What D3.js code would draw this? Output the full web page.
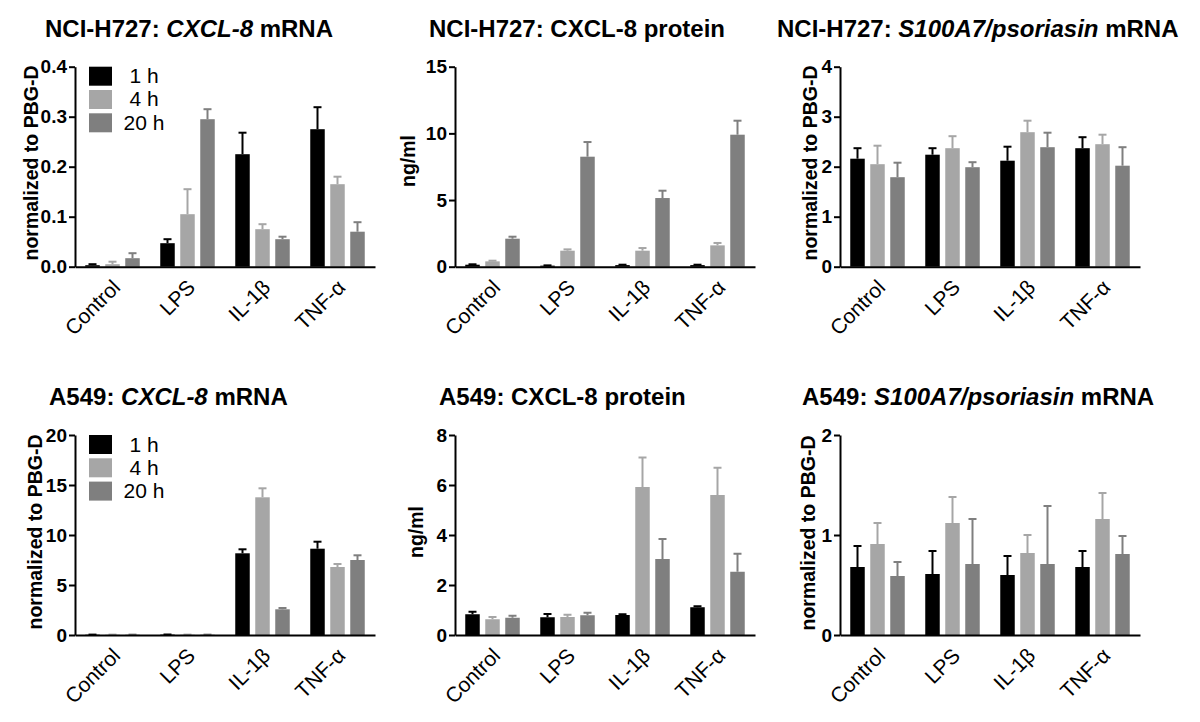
<!DOCTYPE html>
<html><head><meta charset="utf-8">
<script src="https://cdn.jsdelivr.net/npm/d3@7"></script>
<style>
html,body{margin:0;padding:0;background:#fff;}
svg{display:block;font-family:"Liberation Sans",Arial,sans-serif;}
</style></head>
<body><svg id="chart" width="1200" height="722"></svg>
<script>
// ---------- data ----------
const categories = ["Control", "LPS", "IL-1β", "TNF-α"];
const series = ["1 h", "4 h", "20 h"];
const seriesColors = ["#000000", "#a6a6a6", "#7f7f7f"];

// NCI-H727: CXCL-8 mRNA  (rows = series 1h,4h,20h; cols = categories)
const h727MrnaMean = [[0.003, 0.047, 0.225, 0.275], [0.005, 0.105, 0.075, 0.165], [0.017, 0.295, 0.055, 0.07]];
const h727MrnaErr  = [[0.002, 0.008, 0.043, 0.044], [0.005, 0.05, 0.01, 0.015], [0.01, 0.02, 0.005, 0.019]];
// NCI-H727: CXCL-8 protein
const h727ProtMean = [[0.15, 0.08, 0.12, 0.12], [0.4, 1.2, 1.2, 1.6], [2.1, 8.25, 5.15, 9.9]];
const h727ProtErr  = [[0.03, 0.02, 0.03, 0.03], [0.05, 0.1, 0.2, 0.18], [0.15, 1.1, 0.55, 1.05]];
// NCI-H727: S100A7 mRNA
const h727S100Mean = [[2.16, 2.24, 2.12, 2.37], [2.05, 2.37, 2.69, 2.45], [1.79, 1.99, 2.39, 2.02]];
const h727S100Err  = [[0.21, 0.13, 0.28, 0.22], [0.37, 0.24, 0.23, 0.19], [0.29, 0.1, 0.29, 0.37]];
// A549: CXCL-8 mRNA
const a549MrnaMean = [[0.03, 0.04, 8.17, 8.63], [0.03, 0.03, 13.77, 6.8], [0.03, 0.03, 2.57, 7.5]];
const a549MrnaErr  = [[0.01, 0.01, 0.4, 0.7], [0.01, 0.01, 0.9, 0.3], [0.01, 0.01, 0.13, 0.47]];
// A549: CXCL-8 protein
const a549ProtMean = [[0.83, 0.71, 0.8, 1.11], [0.63, 0.72, 5.92, 5.6], [0.69, 0.79, 3.04, 2.53]];
const a549ProtErr  = [[0.1, 0.13, 0.03, 0.04], [0.09, 0.09, 1.18, 1.09], [0.08, 0.1, 0.8, 0.72]];
// A549: S100A7 mRNA
const a549S100Mean = [[0.68, 0.61, 0.6, 0.68], [0.91, 1.12, 0.82, 1.16], [0.59, 0.71, 0.71, 0.81]];
const a549S100Err  = [[0.21, 0.23, 0.19, 0.16], [0.21, 0.26, 0.18, 0.26], [0.14, 0.45, 0.58, 0.18]];

// y-axis tick values
const ticksH727Mrna = [0, 0.1, 0.2, 0.3, 0.4];
const ticksH727Prot = [0, 5, 10, 15];
const ticksH727S100 = [0, 1, 2, 3, 4];
const ticksA549Mrna = [0, 5, 10, 15, 20];
const ticksA549Prot = [0, 2, 4, 6, 8];
const ticksA549S100 = [0, 1, 2];

// title pieces: [text, italic?]
const titleH727Mrna = [["NCI-H727: ", false], ["CXCL-8", true], [" mRNA", false]];
const titleH727Prot = [["NCI-H727: CXCL-8 protein", false]];
const titleH727S100 = [["NCI-H727: ", false], ["S100A7/psoriasin", true], [" mRNA", false]];
const titleA549Mrna = [["A549: ", false], ["CXCL-8", true], [" mRNA", false]];
const titleA549Prot = [["A549: CXCL-8 protein", false]];
const titleA549S100 = [["A549: ", false], ["S100A7/psoriasin", true], [" mRNA", false]];

const ylabMrna = "normalized to PBG-D";
const ylabProt = "ng/ml";

// ---------- layout ----------
const svg = d3.select("#chart");
const PW = 300, PH = 200;
const panels = [
  {x: 75,  y: 66.7, mean: h727MrnaMean, err: h727MrnaErr, ticks: ticksH727Mrna, fmt: ".1f", title: titleH727Mrna, tx: 45,  ty: 37, ylab: ylabMrna, ylx: -37, yly: 163, legend: true},
  {x: 455, y: 66.7, mean: h727ProtMean, err: h727ProtErr, ticks: ticksH727Prot, fmt: "d",   title: titleH727Prot, tx: 429, ty: 37, ylab: ylabProt, ylx: -40, yly: 161, legend: false},
  {x: 840, y: 66.7, mean: h727S100Mean, err: h727S100Err, ticks: ticksH727S100, fmt: "d",   title: titleH727S100, tx: 777, ty: 37, ylab: ylabMrna, ylx: -23, yly: 163, legend: false},
  {x: 75,  y: 435,  mean: a549MrnaMean, err: a549MrnaErr, ticks: ticksA549Mrna, fmt: "d",   title: titleA549Mrna, tx: 49,  ty: 405, ylab: ylabMrna, ylx: -33, yly: 532, legend: true},
  {x: 455, y: 435,  mean: a549ProtMean, err: a549ProtErr, ticks: ticksA549Prot, fmt: "d",   title: titleA549Prot, tx: 439, ty: 405, ylab: ylabProt, ylx: -32, yly: 532, legend: false},
  {x: 840, y: 435,  mean: a549S100Mean, err: a549S100Err, ticks: ticksA549S100, fmt: "d",   title: titleA549S100, tx: 802, ty: 405, ylab: ylabMrna, ylx: -25, yly: 533, legend: false}
];

panels.forEach(p => {
  const g = svg.append("g").attr("transform", `translate(${p.x},${p.y})`);
  const x0 = d3.scaleBand().domain(categories).range([0, PW]).paddingInner(0).paddingOuter(0);
  const x1 = d3.scaleBand().domain(series).range([x0.bandwidth()/2 - 27.25, x0.bandwidth()/2 + 27.25]).paddingInner(0.275).paddingOuter(0);
  const ymax = p.ticks[p.ticks.length - 1];
  const y = d3.scaleLinear().domain([0, ymax]).range([PH, 0]);

  // bars + error bars
  series.forEach((s, si) => {
    categories.forEach((c, ci) => {
      const m = p.mean[si][ci], e = p.err[si][ci];
      const bx = x0(c) + x1(s);
      const bw = x1.bandwidth();
      const cx = bx + bw / 2;
      g.append("line").attr("x1", cx).attr("x2", cx).attr("y1", y(m)).attr("y2", y(m + e))
        .attr("stroke", seriesColors[si]).attr("stroke-width", 2);
      g.append("line").attr("x1", cx - 4).attr("x2", cx + 4).attr("y1", y(m + e)).attr("y2", y(m + e))
        .attr("stroke", seriesColors[si]).attr("stroke-width", 2);
      g.append("rect").attr("x", bx).attr("y", y(m)).attr("width", bw).attr("height", y(0) - y(m))
        .attr("fill", seriesColors[si]);
    });
  });

  // y axis
  const ya = g.append("g").call(d3.axisLeft(y).tickValues(p.ticks).tickFormat(d3.format(p.fmt)).tickSize(6).tickSizeOuter(0).tickPadding(2));
  ya.select(".domain").attr("stroke", "#000").attr("stroke-width", 2);
  ya.selectAll(".tick line").attr("stroke", "#000").attr("stroke-width", 2);
  ya.selectAll(".tick text").attr("font-size", 19).attr("font-weight", "bold").attr("fill", "#000")
    .attr("font-family", "'Liberation Sans',Arial,sans-serif");

  // x axis
  const xa = g.append("g").attr("transform", `translate(0,${PH})`).call(d3.axisBottom(x0).tickSize(0).tickSizeOuter(0));
  xa.select(".domain").attr("stroke", "#000").attr("stroke-width", 2);
  xa.selectAll(".tick text").attr("font-size", 21).attr("fill", "#000")
    .attr("font-family", "'Liberation Sans',Arial,sans-serif")
    .attr("text-anchor", "end").attr("dy", null).attr("y", 0)
    .attr("transform", "translate(9,22) rotate(-45)");

  // y label
  svg.append("text").attr("transform", `translate(${p.x + p.ylx},${p.yly}) rotate(-90)`)
    .attr("text-anchor", "middle").attr("font-size", 19.5).attr("font-weight", "bold").text(p.ylab);

  // title
  const t = svg.append("text").attr("x", p.tx).attr("y", p.ty).attr("font-size", 24).attr("font-weight", "bold");
  p.title.forEach(([txt, it]) => t.append("tspan").attr("font-style", it ? "italic" : "normal").text(txt));

  // legend
  if (p.legend) {
    const lg = g.append("g").attr("transform", "translate(14,0)");
    series.forEach((s, si) => {
      lg.append("rect").attr("x", 0).attr("y", si * 23.3).attr("width", 23).attr("height", 19).attr("fill", seriesColors[si]);
      lg.append("text").attr("x", 55).attr("y", si * 23.3 + 16.5).attr("text-anchor", "middle")
        .attr("font-size", 21).text(s);
    });
  }
});
</script>
</body></html>
